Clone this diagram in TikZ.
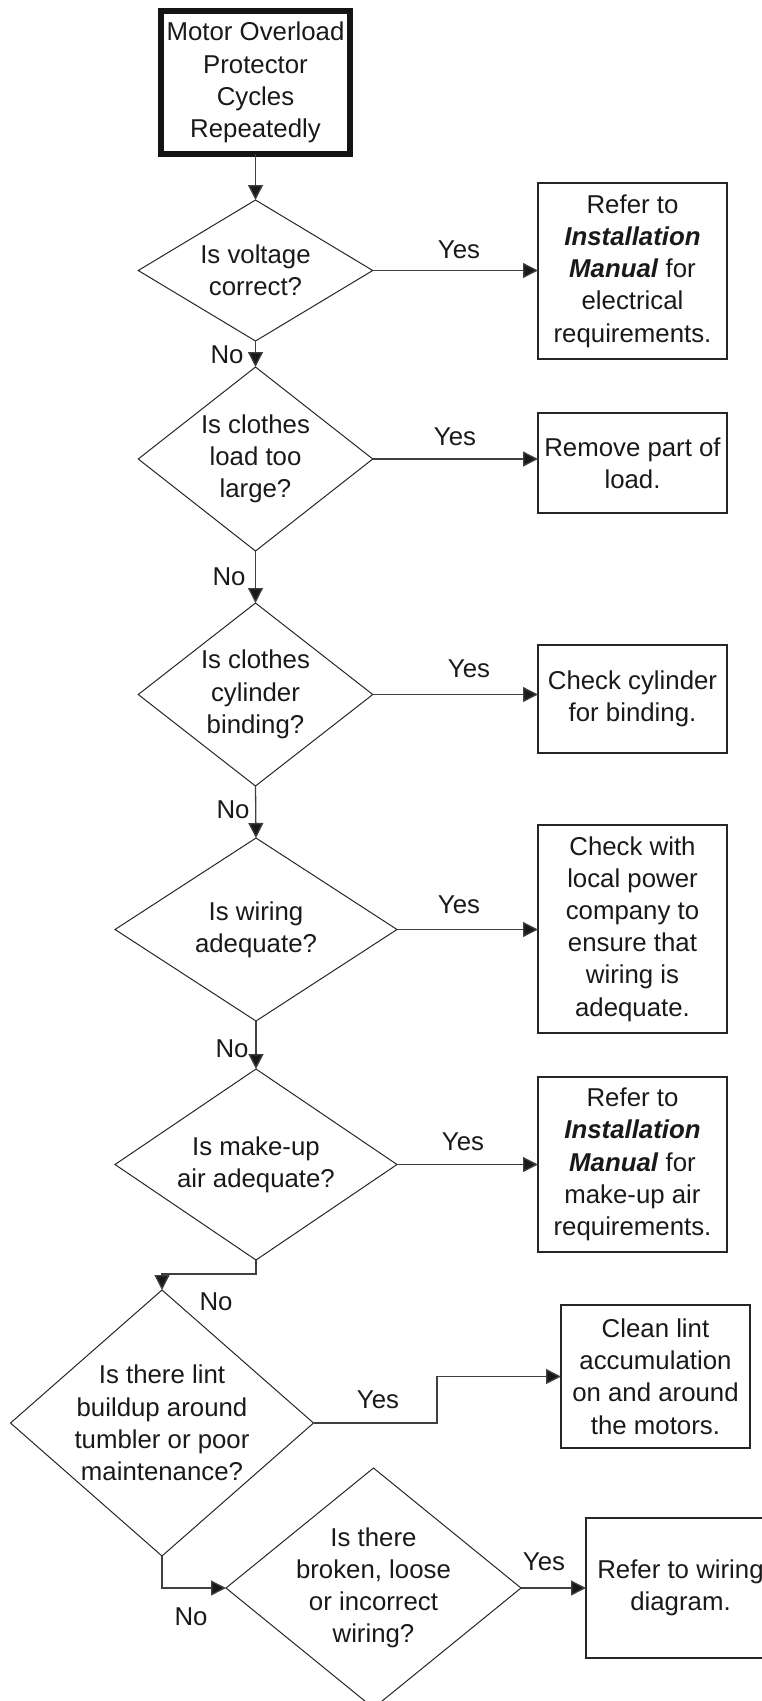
\documentclass[tikz,border=0pt]{standalone}
\usepackage{fontspec}
\setmainfont{Liberation Sans}
\usetikzlibrary{shapes.geometric,arrows.meta}
\begin{document}
\begin{tikzpicture}[x=1pt,y=-1pt,
  txt/.style={font=\fontsize{25.8pt}{32.2pt}\selectfont, align=center, inner sep=0pt, text=black!90},
  dec/.style={draw=black!85, line width=1pt, shape=diamond, inner sep=0pt, outer sep=0pt},
  act/.style={txt, draw=black!85, line width=1.3pt, rectangle, outer sep=0pt, minimum width=189pt},
  startbox/.style={txt, draw=black!92, line width=6pt, rectangle, outer sep=0pt},
  lbl/.style={font=\fontsize{25.8pt}{32.2pt}\selectfont, inner sep=0pt, text=black!90},
  conn/.style={draw=black!75, line width=1.3pt, -{Triangle[length=15pt,width=15pt,fill=black!90]}}
]
\useasboundingbox (0,0) rectangle (762,1701);

% start
\node[startbox, minimum width=189pt, minimum height=143pt] (start) at (255.5,82.5)
  {Motor Overload\\Protector\\Cycles\\Repeatedly};

% decisions
\node[dec, minimum width=234.5pt, minimum height=141pt] (d1) at (255.5,270.5) {};
\node[txt] (t1) at (d1.center) {Is voltage\\correct?};
\node[dec, minimum width=234.5pt, minimum height=184pt] (d2) at (255.5,459) {};
\node[txt] (t2) at (d2.center) {Is clothes\\load too\\large?};
\node[dec, minimum width=234.5pt, minimum height=183pt] (d3) at (255.5,694.5) {};
\node[txt] (t3) at (d3.center) {Is clothes\\cylinder\\binding?};
\node[dec, minimum width=282pt, minimum height=183pt] (d4) at (256,929.5) {};
\node[txt] (t4) at (d4.center) {Is wiring\\adequate?};
\node[dec, minimum width=282pt, minimum height=191pt] (d5) at (256,1164.5) {};
\node[txt] (t5) at (d5.center) {Is make-up\\air adequate?};
\node[dec, minimum width=303pt, minimum height=266pt] (d6) at (162,1423) {};
\node[txt] (t6) at (d6.center) {Is there lint\\buildup around\\tumbler or poor\\maintenance?};
\node[dec, minimum width=295pt, minimum height=240pt] (d7) at (373.5,1588) {};
\node[txt] (t7) at (d7.center) {Is there\\broken, loose\\or incorrect\\wiring?};

% actions
\node[act, minimum height=176pt] (r1) at (632.5,271)
  {Refer to\\\textbf{\textit{Installation}}\\\textbf{\textit{Manual}} for\\electrical\\requirements.};
\node[act, minimum height=100pt] (r2) at (632.5,463) {Remove part of\\load.};
\node[act, minimum height=108pt] (r3) at (632.5,699) {Check cylinder\\for binding.};
\node[act, minimum height=208pt] (r4) at (632.5,929)
  {Check with\\local power\\company to\\ensure that\\wiring is\\adequate.};
\node[act, minimum height=175pt] (r5) at (632.5,1164.5)
  {Refer to\\\textbf{\textit{Installation}}\\\textbf{\textit{Manual}} for\\make-up air\\requirements.};
\node[act, minimum height=143pt] (r6) at (655.5,1376.5)
  {Clean lint\\accumulation\\on and around\\the motors.};
\node[act, minimum height=140pt] (r7) at (680.5,1588) {Refer to wiring\\diagram.};

% connectors
\draw[conn] (start) -- (d1.north);
\draw[conn] (d1.south) -- (d2.north);
\draw[conn] (d2.south) -- (d3.north);
\draw[conn] (d3.south) -- (d4.north);
\draw[conn] (d4.south) -- (d5.north);
\draw[conn] (d5.south) -- ++(0,14) -| (d6.north);
\coordinate (k6) at (437,1376.5);
\draw[conn] (d6.east) -| (k6) -- (r6.west);
\draw[conn] (d6.south) |- (d7.west);

\draw[conn] (d1.east) -- (d1.east -| r1.west);
\draw[conn] (d2.east) -- (d2.east -| r2.west);
\draw[conn] (d3.east) -- (d3.east -| r3.west);
\draw[conn] (d4.east) -- (d4.east -| r4.west);
\draw[conn] (d5.east) -- (d5.east -| r5.west);
\draw[conn] (d7.east) -- (d7.east -| r7.west);

% labels
\node[lbl] (y1) at (459,250) {Yes};
\node[lbl] (y2) at (455,437) {Yes};
\node[lbl] (y3) at (469,669) {Yes};
\node[lbl] (y4) at (459,905) {Yes};
\node[lbl] (y5) at (463,1142) {Yes};
\node[lbl] (y6) at (378,1400) {Yes};
\node[lbl] (y7) at (544,1562) {Yes};
\node[lbl] (n1) at (227,355) {No};
\node[lbl] (n2) at (229,577) {No};
\node[lbl] (n3) at (233,810) {No};
\node[lbl] (n4) at (232,1049) {No};
\node[lbl] (n5) at (216,1302) {No};
\node[lbl] (n6) at (191,1617) {No};
\end{tikzpicture}
\end{document}
